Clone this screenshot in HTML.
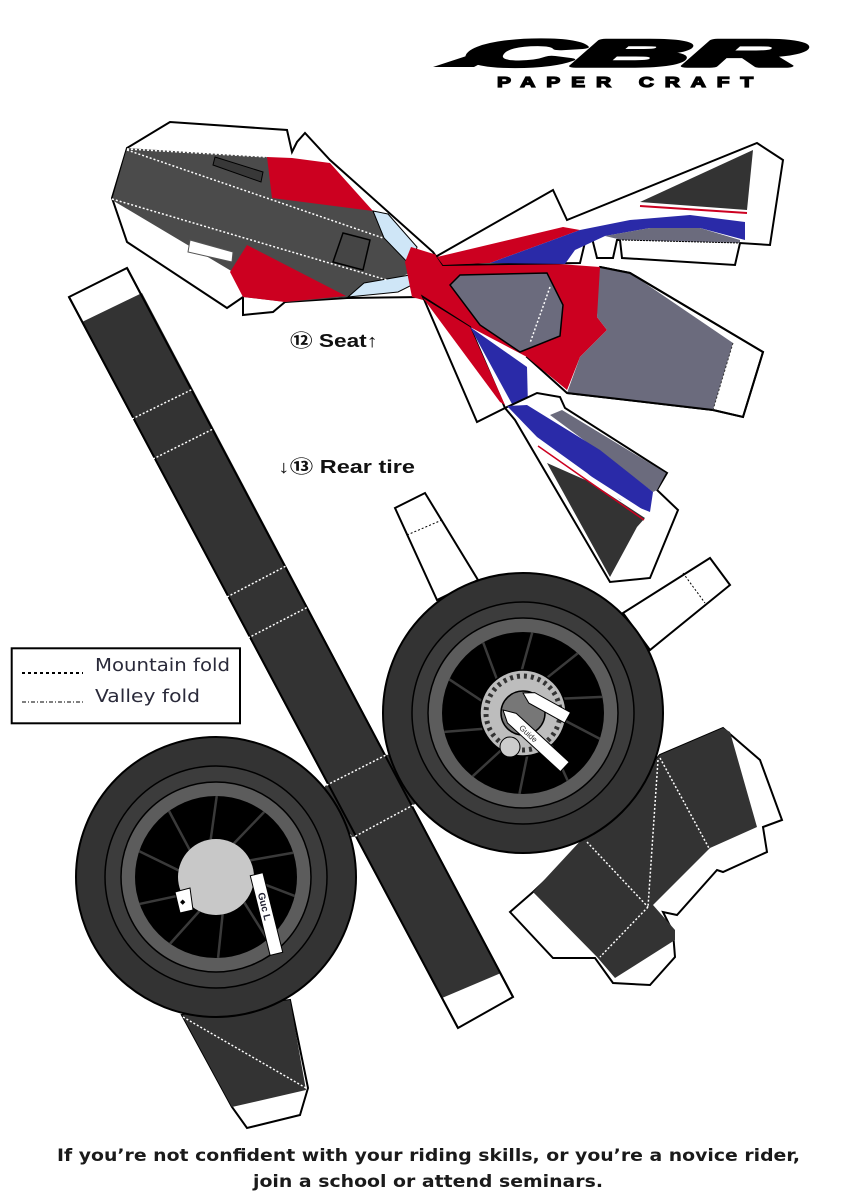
<!DOCTYPE html>
<html><head><meta charset="utf-8"><style>
html,body{margin:0;padding:0;background:#fff;}
svg{display:block;}
</style></head><body>
<svg width="846" height="1200" viewBox="0 0 846 1200" xmlns="http://www.w3.org/2000/svg">
<rect width="846" height="1200" fill="#fff"/>

<!-- LOGO -->
<polygon points="433,67 500,45 515,45 474,67" fill="#000"/>
<g transform="translate(462,66) skewX(-18)">
<text x="0" y="0" font-family="Liberation Sans, sans-serif" font-weight="bold" font-style="italic" font-size="37" textLength="335" lengthAdjust="spacingAndGlyphs" fill="#000" stroke="#000" stroke-width="3.5" stroke-linejoin="round">CBR</text>
</g>
<g transform="translate(497,87) scale(1.4,1)">
<text x="0" y="0" font-family="Liberation Sans, sans-serif" font-weight="bold" font-size="15" textLength="183" lengthAdjust="spacing" fill="#000" stroke="#000" stroke-width="1.2">PAPER CRAFT</text>
</g>

<!-- LONG STRIP -->
<polygon points="69,297 127,268 513,997 458,1028" fill="#fff" stroke="#000" stroke-width="2"/>
<polygon points="82,322 142,293 501,973 442,998" fill="#333"/>
<polygon points="323,787 390,753 417,803 352,838" fill="#333"/>
<line x1="69" y1="297" x2="458" y2="1028" stroke="#000" stroke-width="2"/>
<line x1="127" y1="268" x2="513" y2="997" stroke="#000" stroke-width="2"/>
<g stroke="#fff" stroke-width="1.5" stroke-dasharray="2,2" fill="none">
<line x1="132" y1="419" x2="195" y2="388"/>
<line x1="153" y1="459" x2="215" y2="428"/>
<line x1="227" y1="597" x2="288" y2="565"/>
<line x1="248" y1="638" x2="308" y2="607"/>
<polygon points="323,787 390,753 417,803 352,838"/>
</g>

<!-- SEAT LEFT PIECE -->
<polygon points="127,148 170,122 287,130 292,152 297,142 305,133 330,160 433,252 440,262 423,297 347,298 285,302 273,312 243,315 243,297 227,308 127,242 112,198" fill="#fff" stroke="#000" stroke-width="2"/>
<polygon points="127,148 267,157 373,211 417,247 413,272 348,297 286,302 243,297 233,272 112,200" fill="#4b4b4b"/>
<polygon points="267,157 292,158 330,163 373,211 272,198" fill="#cc0020"/>
<polygon points="230,272 247,245 346,296 285,302 243,297" fill="#cc0020"/>
<polygon points="373,211 388,214 417,247 412,267 384,238" fill="#cfe6f7" stroke="#000" stroke-width="1"/>
<polygon points="348,297 364,283 410,275 412,285 398,292" fill="#cfe6f7" stroke="#000" stroke-width="1"/>
<polygon points="215,157 263,172 261,182 213,165" fill="#383838" stroke="#000" stroke-width="1"/>
<polygon points="343,233 370,240 363,270 333,262" fill="#454545" stroke="#000" stroke-width="1.5"/>
<polygon points="190,240 233,252 232,262 188,252" fill="#fff" stroke="#555" stroke-width="1"/>
<g stroke="#fff" stroke-width="1.5" stroke-dasharray="2,2" fill="none">
<line x1="127" y1="149" x2="267" y2="157"/>
<line x1="127" y1="150" x2="383" y2="238"/>
<line x1="112" y1="199" x2="387" y2="280"/>
</g>

<!-- CENTRAL RED + BIG SLATE PIECE -->
<polygon points="600,267 630,273 763,352 743,417 713,410 567,393 527,357" fill="#fff" stroke="#000" stroke-width="2"/>
<polygon points="405,262 411,247 437,255 600,267 603,270 597,317 607,330 580,357 567,390 527,357 470,327 423,300 412,297" fill="#cc0020"/>
<polygon points="600,267 630,273 733,343 713,410 567,393 580,357 607,330 597,317" fill="#6b6b7d"/>
<polyline points="600,267 630,273 763,352 743,417 713,410 567,393" fill="none" stroke="#000" stroke-width="2"/>
<line x1="733" y1="343" x2="713" y2="410" stroke="#333" stroke-width="1" stroke-dasharray="2,2"/>
<polygon points="450,285 460,275 547,273 563,305 560,336 520,352 480,325" fill="#6b6b7d" stroke="#000" stroke-width="1.5"/>
<line x1="550" y1="287" x2="530" y2="343" stroke="#fff" stroke-width="1.5" stroke-dasharray="2,2"/>

<!-- UPPER RIGHT WING -->
<polygon points="437,256 553,190 567,220 757,143 783,160 770,245 740,243 735,265 622,258 620,240 617,240 613,258 597,258 592,238 586,238 580,263 443,265" fill="#fff" stroke="#000" stroke-width="2"/>
<polygon points="437,257 563,227 580,230 490,263 443,265" fill="#cc0020"/>
<polygon points="640,202 753,150 747,210" fill="#333"/>
<polyline points="640,206 747,213" fill="none" stroke="#cc0020" stroke-width="2"/>
<polygon points="490,263 580,230 630,220 690,215 745,222 745,240 700,228 650,228 605,236 575,250 565,264" fill="#2a2aa8"/>
<polygon points="605,236 650,228 700,228 740,240 740,243 622,240" fill="#6b6b7d"/>
<line x1="622" y1="240" x2="740" y2="243" stroke="#000" stroke-width="1" stroke-dasharray="2,1"/>

<!-- LOWER WING -->
<polygon points="423,297 477,422 505,408 470,327" fill="#fff" stroke="#000" stroke-width="2"/>
<polygon points="423,298 470,327 505,405 500,402" fill="#cc0020"/>
<polygon points="470,327 527,367 528,407 512,404" fill="#2a2aa8"/>
<polygon points="505,408 537,393 560,397 565,408 667,473 657,490 678,510 650,578 610,582 515,420" fill="#fff" stroke="#000" stroke-width="2"/>
<polygon points="547,463 590,482 645,518 637,527 610,577" fill="#333"/>
<polygon points="562,410 666,473 657,490 653,492 600,452 550,415" fill="#6b6b7d"/>
<polygon points="507,406 527,405 600,450 653,492 650,512 620,500 587,473 537,437" fill="#2a2aa8"/>
<polyline points="537,441 587,476 646,514" fill="none" stroke="#fff" stroke-width="4"/>
<polyline points="538,446 588,481 644,520" fill="none" stroke="#cc0020" stroke-width="1.5"/>

<!-- LABELS -->
<text x="290" y="347" font-family="Liberation Sans, DejaVu Sans, Noto Sans CJK JP, sans-serif" font-weight="bold" font-size="18" textLength="88" lengthAdjust="spacingAndGlyphs" fill="#111">⑫ Seat↑</text>
<text x="278" y="473" font-family="Liberation Sans, DejaVu Sans, Noto Sans CJK JP, sans-serif" font-weight="bold" font-size="18" textLength="137" lengthAdjust="spacingAndGlyphs" fill="#111">↓⑬ Rear tire</text>

<!-- LEGEND -->
<rect x="11.7" y="648.3" width="228.3" height="75" fill="#fff" stroke="#000" stroke-width="2"/>
<line x1="22" y1="673" x2="83" y2="673" stroke="#000" stroke-width="2" stroke-dasharray="3,3"/>
<line x1="22" y1="702" x2="83" y2="702" stroke="#555" stroke-width="1.5" stroke-dasharray="4,2,1,2"/>
<text x="95" y="671" font-family="DejaVu Sans, Liberation Sans, sans-serif" font-size="18" textLength="135" lengthAdjust="spacingAndGlyphs" fill="#2a2a3a">Mountain fold</text>
<text x="95" y="702" font-family="DejaVu Sans, Liberation Sans, sans-serif" font-size="18" textLength="105" lengthAdjust="spacingAndGlyphs" fill="#2a2a3a">Valley fold</text>

<!-- REAR WHEEL TABS -->
<polygon points="395,508 425,493 478,580 437,600" fill="#fff" stroke="#000" stroke-width="2"/>
<line x1="407" y1="535" x2="442" y2="520" stroke="#000" stroke-width="1" stroke-dasharray="2,2"/>
<polygon points="623,613 710,558 730,585 650,650" fill="#fff" stroke="#000" stroke-width="2"/>
<line x1="683" y1="573" x2="705" y2="603" stroke="#000" stroke-width="1" stroke-dasharray="2,2"/>

<!-- BOTTOM RIGHT BOX PIECE -->
<polygon points="510,912 533,892 586,842 660,755 723,728 760,760 782,820 763,827 767,852 723,872 717,870 677,915 663,912 673,932 675,957 650,985 613,983 595,958 553,958" fill="#fff" stroke="#000" stroke-width="2"/>
<polygon points="533,892 660,755 723,728 730,732 757,827 710,848 653,905 675,930 675,940 615,978 597,957" fill="#333"/>
<g stroke="#fff" stroke-width="1.5" stroke-dasharray="2,2" fill="none">
<line x1="587" y1="842" x2="648" y2="907"/>
<line x1="658" y1="760" x2="648" y2="907"/>
<line x1="660" y1="758" x2="710" y2="850"/>
<line x1="648" y1="907" x2="600" y2="957"/>
</g>

<!-- FRONT WHEEL TAB -->
<polygon points="182,1015 290,1000 308,1088 300,1115 247,1128 232,1107" fill="#fff" stroke="#000" stroke-width="2"/>
<polygon points="182,1015 290,1000 306,1090 232,1107" fill="#333"/>
<line x1="183" y1="1017" x2="306" y2="1088" stroke="#fff" stroke-width="1.5" stroke-dasharray="2,2"/>

<!-- REAR WHEEL -->
<g transform="translate(523,713)">
<circle r="140" fill="#333" stroke="#000" stroke-width="2"/>
<circle r="111" fill="#3c3c3c" stroke="#000" stroke-width="1.5"/>
<circle r="95" fill="#5c5c5c" stroke="#000" stroke-width="1.5"/>
<circle r="81" fill="#000"/>
<g stroke="#3a3a3a" stroke-width="2.5">
<line x1="42" y1="0" x2="80" y2="12" transform="rotate(10)"/>
<line x1="42" y1="0" x2="80" y2="12" transform="rotate(48)"/>
<line x1="42" y1="0" x2="80" y2="12" transform="rotate(84)"/>
<line x1="42" y1="0" x2="80" y2="12" transform="rotate(120)"/>
<line x1="42" y1="0" x2="80" y2="12" transform="rotate(158)"/>
<line x1="42" y1="0" x2="80" y2="12" transform="rotate(196)"/>
<line x1="42" y1="0" x2="80" y2="12" transform="rotate(232)"/>
<line x1="42" y1="0" x2="80" y2="12" transform="rotate(268)"/>
<line x1="42" y1="0" x2="80" y2="12" transform="rotate(304)"/>
<line x1="42" y1="0" x2="80" y2="12" transform="rotate(340)"/>
</g>
<circle r="43" fill="#bdbdbd" stroke="#000" stroke-width="1.5"/>
<circle r="37" fill="none" stroke="#333" stroke-width="5" stroke-dasharray="3,4"/>
<circle r="22" fill="#777" stroke="#000" stroke-width="1.5"/>
<circle cx="-13" cy="34" r="10" fill="#ccc" stroke="#000" stroke-width="1"/>
</g>
<g transform="translate(523,693) rotate(29)">
<polygon points="0,0 10,-6 51,-6 51,6 10,6" fill="#fff" stroke="#000" stroke-width="1"/>
</g>
<g transform="translate(503,710) rotate(42.6)">
<polygon points="0,0 12,-6.5 84,-6.5 84,6.5 12,6.5" fill="#fff" stroke="#000" stroke-width="1"/>
<text x="24" y="3" font-family="Liberation Sans, sans-serif" font-size="8" fill="#333">Guide</text>
</g>

<!-- FRONT WHEEL -->
<g transform="translate(216,877)">
<circle r="140" fill="#333" stroke="#000" stroke-width="2"/>
<circle r="111" fill="#3c3c3c" stroke="#000" stroke-width="1.5"/>
<circle r="95" fill="#5c5c5c" stroke="#000" stroke-width="1.5"/>
<circle r="81" fill="#000"/>
<g stroke="#3a3a3a" stroke-width="2.5">
<line x1="38" y1="0" x2="80" y2="12" transform="rotate(5)"/>
<line x1="38" y1="0" x2="80" y2="12" transform="rotate(42)"/>
<line x1="38" y1="0" x2="80" y2="12" transform="rotate(80)"/>
<line x1="38" y1="0" x2="80" y2="12" transform="rotate(116)"/>
<line x1="38" y1="0" x2="80" y2="12" transform="rotate(152)"/>
<line x1="38" y1="0" x2="80" y2="12" transform="rotate(190)"/>
<line x1="38" y1="0" x2="80" y2="12" transform="rotate(226)"/>
<line x1="38" y1="0" x2="80" y2="12" transform="rotate(262)"/>
<line x1="38" y1="0" x2="80" y2="12" transform="rotate(298)"/>
<line x1="38" y1="0" x2="80" y2="12" transform="rotate(334)"/>
</g>
<circle r="38" fill="#c8c8c8"/>
</g>
<polygon points="175,892 190,888 193,910 180,913" fill="#fff" stroke="#000" stroke-width="1"/>
<text x="180" y="904" font-family="DejaVu Sans, sans-serif" font-size="7" fill="#000">◆</text>
<g transform="translate(266.5,914) rotate(-14)">
<rect x="-6.5" y="-41" width="13" height="82" fill="#fff" stroke="#000" stroke-width="1"/>
<g transform="rotate(90)">
<text x="-22" y="3.5" font-family="Liberation Sans, sans-serif" font-weight="bold" font-size="10" fill="#223">Guc L</text>
</g>
</g>

<!-- BOTTOM TEXT -->
<text x="57" y="1161" font-family="DejaVu Sans, Liberation Sans, sans-serif" font-weight="bold" font-size="17" textLength="743" lengthAdjust="spacingAndGlyphs" fill="#1a1a1a">If you’re not confident with your riding skills, or you’re a novice rider,</text>
<text x="253" y="1187" font-family="DejaVu Sans, Liberation Sans, sans-serif" font-weight="bold" font-size="17" textLength="350" lengthAdjust="spacingAndGlyphs" fill="#1a1a1a">join a school or attend seminars.</text>
</svg>
</body></html>
